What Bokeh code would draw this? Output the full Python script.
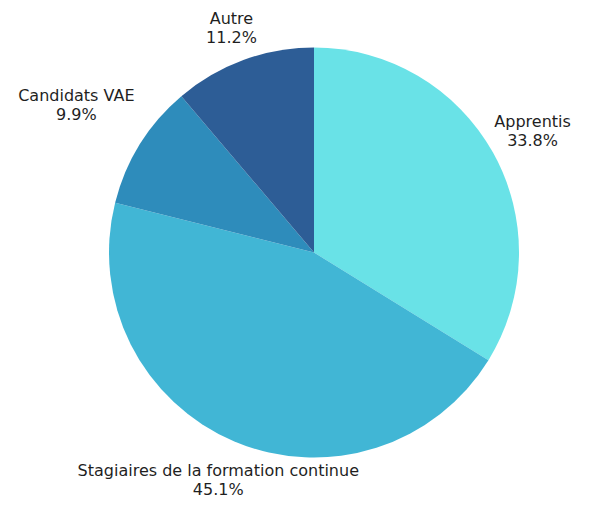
import math
from bokeh.plotting import figure
from bokeh.models import Range1d, ColumnDataSource
from bokeh.core.properties import value
from bokeh.embed import file_html
from bokeh.resources import INLINE

# Data
categories = ["Apprentis", "Stagiaires de la formation continue", "Candidats VAE", "Autre"]
shares = [33.8, 45.1, 9.9, 11.2]

# Style
colors = ["#69E2E7", "#41B6D5", "#2E8CBB", "#2D5D96"]
label_radius_factor = [1.221, 1.202, 1.365, 1.168]
R = 205
FONT = "DejaVu Sans"
LINE_GAP = 9.5

W, H = 573, 501
cx_pix, cy_pix = 313.5, 252  # pie center in figure pixels from left/top

p = figure(width=W, height=H, output_backend="svg", toolbar_location=None,
           x_range=Range1d(-cx_pix, W - cx_pix), y_range=Range1d(-(H - cy_pix), cy_pix),
           min_border=0)
p.axis.visible = False
p.grid.visible = False
p.outline_line_color = None
p.background_fill_color = "white"
p.border_fill_color = "white"

total = sum(shares)
starts, ends, lx, ly, names, pcts = [], [], [], [], [], []
cum = 0.0
for cat, s, f in zip(categories, shares, label_radius_factor):
    a0 = math.pi / 2 - 2 * math.pi * cum / total
    cum += s
    a1 = math.pi / 2 - 2 * math.pi * cum / total
    starts.append(a0)
    ends.append(a1)
    mid = (a0 + a1) / 2
    lx.append(R * f * math.cos(mid))
    ly.append(R * f * math.sin(mid))
    names.append(cat)
    pcts.append(f"{s:.1f}%")

src = ColumnDataSource(dict(start=starts, end=ends, color=colors,
                            lx=lx, ly=ly,
                            ly1=[y + LINE_GAP for y in ly], ly2=[y - LINE_GAP for y in ly],
                            name=names, pct=pcts))

p.wedge(x=0, y=0, radius=R, start_angle="start", end_angle="end", direction="clock",
        fill_color="color", line_color=None, source=src)

p.text(x="lx", y="ly1", text="name", source=src, text_align="center", text_baseline="middle",
       text_font=value(FONT), text_font_size="16px", text_color="#1f1f1f")
p.text(x="lx", y="ly2", text="pct", source=src, text_align="center", text_baseline="middle",
       text_font=value(FONT), text_font_size="16px", text_color="#1f1f1f")

open("out.html", "w").write(file_html(p, INLINE))
